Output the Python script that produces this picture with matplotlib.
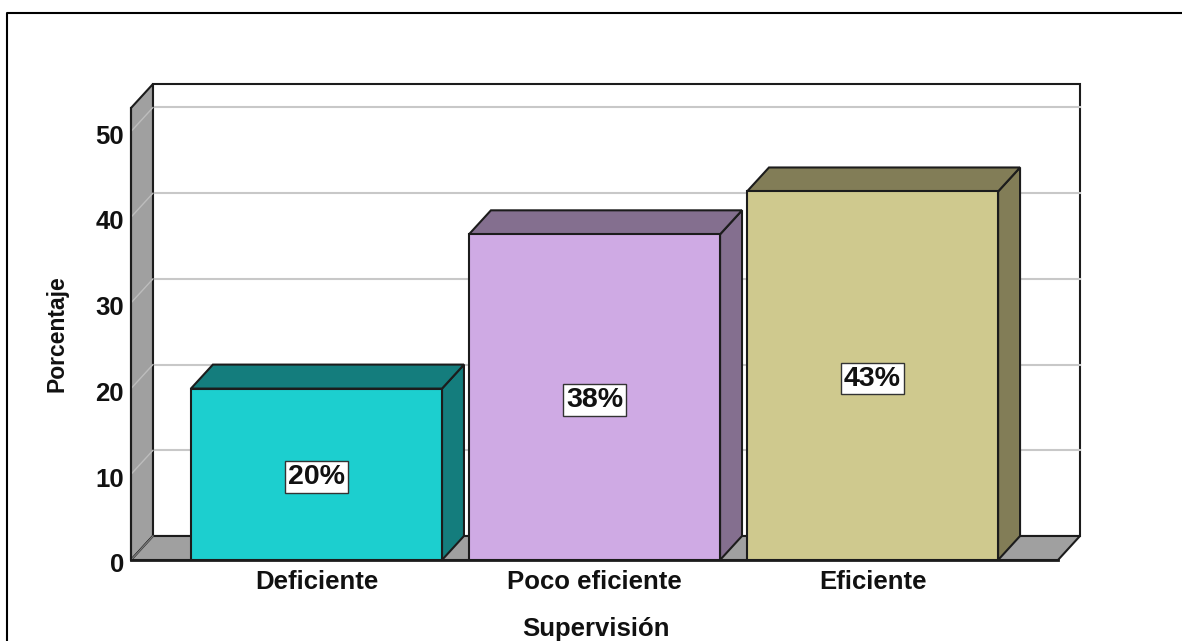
import matplotlib.pyplot as plt
from matplotlib.lines import Line2D
from matplotlib.patches import Polygon
from matplotlib.transforms import ScaledTranslation

plt.rcParams['font.family'] = ['Liberation Sans', 'DejaVu Sans']

# Data
categorias = ["Deficiente", "Poco eficiente", "Eficiente"]
porcentajes = [20, 38, 43]
etiquetas = ["20%", "38%", "43%"]
yticks = [0, 10, 20, 30, 40, 50]

# Colours for front and side faces
frente = ["#1ccfcf", "#cfaae4", "#cfc98e"]
lado = ["#147d7d", "#846f8f", "#827d57"]
gris = "#a0a0a0"
linea = "#1c1c1c"

# Fake 3D depth in data units
dx = 0.079
dy = 2.8
ancho = 0.903
xmin, xmax = -0.667, 2.667
ymax = 52.74

W, H = 1182, 641
fig = plt.figure(figsize=(W / 100, H / 100), dpi=100)
fig.patch.set_facecolor("white")
ax = fig.add_axes([131 / W, 1 - 560 / H, 927 / W, 452 / H])
ax.set_xlim(xmin, xmax)
ax.set_ylim(0, ymax)
ax.patch.set_visible(False)
for s in ax.spines.values():
    s.set_visible(False)

# Outer frame
fig.add_artist(Line2D([6.5 / W, 6.5 / W, 1], [0, 1 - 12.5 / H, 1 - 12.5 / H], color="black", lw=1.5))


def poly(pts, color, z, lw=1.5, ec=linea):
    ax.add_patch(Polygon(pts, closed=True, facecolor=color, edgecolor=ec, lw=lw, zorder=z,
                         clip_on=False, joinstyle="miter"))


# Back wall, left wall, floor
poly([(xmin + dx, dy), (xmax + dx, dy), (xmax + dx, ymax + dy), (xmin + dx, ymax + dy)], "white", 1)
poly([(xmin, 0), (xmin + dx, dy), (xmin + dx, ymax + dy), (xmin, ymax)], gris, 2)
poly([(xmin, 0), (xmax, 0), (xmax + dx, dy), (xmin + dx, dy)], gris, 2)

# Gridlines on the back wall and across the left wall
for v in yticks[1:]:
    ax.plot([xmin + dx, xmax + dx], [v + dy, v + dy], color="#c8c8c8", lw=1.5, zorder=1.5, clip_on=False)
    ax.plot([xmin, xmin + dx], [v, v + dy], color="#bdbdbd", lw=1, zorder=2.5, clip_on=False)
ax.plot([xmin, xmin + dx], [0, dy], color="#777777", lw=1, zorder=2.5, clip_on=False)

# Bars with their side and top faces
x = list(range(len(categorias)))
ax.bar(x, porcentajes, width=ancho, color=frente, edgecolor=linea, linewidth=1.5, zorder=4)
bajar = ScaledTranslation(0, -2 / 72, fig.dpi_scale_trans)
for i, v in zip(x, porcentajes):
    izq, der = i - ancho / 2, i + ancho / 2
    poly([(der, 0), (der + dx, dy), (der + dx, v + dy), (der, v)], lado[i], 3)
    poly([(izq, v), (der, v), (der + dx, v + dy), (izq + dx, v + dy)], lado[i], 3)
    ax.text(i, v / 2, etiquetas[i], ha="center", va="center", fontsize=20.5, fontweight="bold",
            color="#111111", zorder=5, transform=ax.transData + bajar,
            bbox=dict(boxstyle="square,pad=0.1", facecolor="white", edgecolor="#333333", lw=1))

# Axis lines on the front edge
ax.plot([xmin, xmin], [0, ymax], color=linea, lw=1.5, zorder=3, clip_on=False)
ax.plot([xmin, xmax], [0, 0], color=linea, lw=2, zorder=3.5, clip_on=False)

ax.set_xticks(x)
ax.set_xticklabels(categorias, fontsize=18.5, fontweight="bold", color="#111111")
ax.set_yticks(yticks)
ax.set_yticklabels([str(t) for t in yticks], fontsize=18.5, fontweight="bold", color="#111111")
ax.tick_params(axis="x", length=0, pad=7)
ax.tick_params(axis="y", length=0, pad=5)
for lab in ax.get_yticklabels():
    lab.set_transform(lab.get_transform() + bajar)

ax.set_xlabel("Supervisión", fontsize=18.5, fontweight="bold", color="#111111")
ax.xaxis.set_label_coords(0.5015, -69 / 452, transform=ax.transAxes)
ax.xaxis.label.set_va("center")
ax.set_ylabel("Porcentaje", fontsize=16.5, fontweight="bold", color="#111111")
ax.yaxis.set_label_coords(-74 / 927, 0.5, transform=ax.transAxes)
ax.yaxis.label.set_va("center")

fig.savefig("out.png", dpi=100)
